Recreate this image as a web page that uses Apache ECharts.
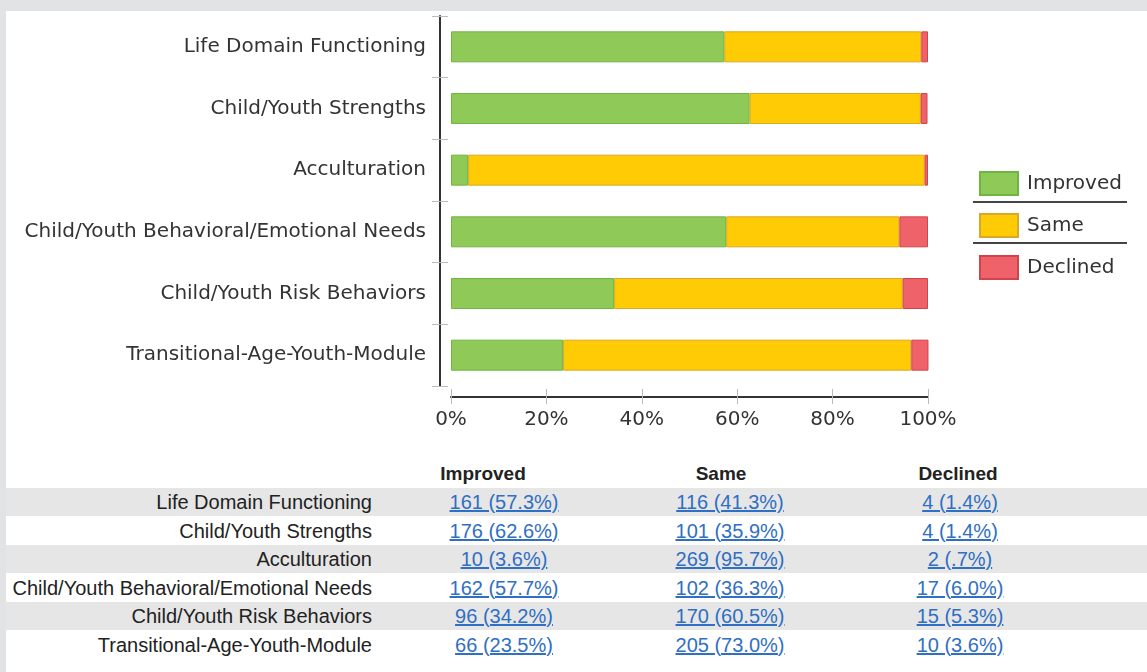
<!DOCTYPE html>
<html>
<head>
<meta charset="utf-8">
<script src="https://cdn.jsdelivr.net/npm/echarts@6/dist/echarts.min.js"></script>
<style>
	body { margin: 0; background: #e2e3e5; width: 1147px; height: 672px; overflow: hidden; position: relative; }
	#panel { position: absolute; left: 6px; top: 11px; right: 0; bottom: 0; background: #fff; }
	#chart { position: absolute; left: 0; top: 0; width: 1147px; height: 460px; }
	#table { position: absolute; left: 0; top: 0; width: 1147px; height: 672px; font-family: "Liberation Sans", Arial, sans-serif; font-size: 20px; color: #222; }
	.row { position: absolute; left: 6px; right: 0; height: 28px; }
	.row.odd { background: #e6e6e6; }
	.cell { position: absolute; height: 28px; line-height: 28px; white-space: nowrap; }
	.cell a { color: #2f6fc4; text-decoration: underline; }
	.head { font-weight: bold; font-size: 19px; }
</style>
</head>
<body>
<div id="panel"></div>
<div id="table"></div>
<div id="chart"></div>
<script>
var categories = ['Life Domain Functioning', 'Child/Youth Strengths', 'Acculturation',
	'Child/Youth Behavioral/Emotional Needs', 'Child/Youth Risk Behaviors', 'Transitional-Age-Youth-Module'];
var seriesNames = ['Improved', 'Same', 'Declined'];
var improvedCount = [161, 176, 10, 162, 96, 66];
var sameCount = [116, 101, 269, 102, 170, 205];
var declinedCount = [4, 4, 2, 17, 15, 10];
var improvedPct = [57.3, 62.6, 3.6, 57.7, 34.2, 23.5];
var samePct = [41.3, 35.9, 95.7, 36.3, 60.5, 73.0];
var declinedPct = [1.4, 1.4, 0.7, 6.0, 5.3, 3.6];
var xTicks = [0, 20, 40, 60, 80, 100];

var colors = ['#8fc957', '#fecb05', '#f0626a'];
var borders = ['#6fb544', '#d9a826', '#d2444c'];

// table under the chart
function fmtPct(v) {
	return v.toFixed(1).replace(/^0/, '');
}
var table = document.getElementById('table');
var rowTop = 488, rowH = 28.5;
var headCenters = [483, 721, 958];
var valCenters = [504, 730, 960];
var counts = [improvedCount, sameCount, declinedCount];
var pcts = [improvedPct, samePct, declinedPct];
var html = '';
for (var j = 0; j < seriesNames.length; j++) {
	html += '<div class="cell head" style="top:' + (rowTop - 28) + 'px;left:' + (headCenters[j] - 100) +
		'px;width:200px;text-align:center">' + seriesNames[j] + '</div>';
}
for (var i = 0; i < categories.length; i++) {
	var rowY = rowTop + i * rowH;
	html += '<div class="row' + (i % 2 == 0 ? ' odd' : '') + '" style="top:' + rowY + 'px"></div>';
	html += '<div class="cell" style="top:' + rowY + 'px;left:0;width:372px;text-align:right">' + categories[i] + '</div>';
	for (var j = 0; j < seriesNames.length; j++) {
		html += '<div class="cell" style="top:' + rowY + 'px;left:' + (valCenters[j] - 100) +
			'px;width:200px;text-align:center"><a>' + counts[j][i] + ' (' + fmtPct(pcts[j][i]) + '%)</a></div>';
	}
}
table.innerHTML = html;

var chart = echarts.init(document.getElementById('chart'));
var font = 'DejaVu Sans';
var tickStyle = { color: '#bbb', width: 1 };
var series = pcts.map(function(d, k) {
	return {
		name: seriesNames[k],
		type: 'bar',
		stack: 'total',
		barWidth: 31,
		xAxisIndex: 0,
		yAxisIndex: 0,
		itemStyle: { color: colors[k], borderColor: borders[k], borderWidth: 1 },
		data: d
	};
});
chart.setOption({
	animation: false,
	textStyle: { fontFamily: font },
	grid: { left: 451, top: 16, width: 477, height: 370 },
	legend: {
		orient: 'vertical',
		left: 979,
		top: 171,
		padding: 0,
		icon: 'rect',
		itemWidth: 38,
		itemHeight: 23,
		itemGap: 17,
		selectedMode: false,
		textStyle: { fontFamily: font, fontSize: 20, color: '#333', padding: [0, 0, 0, 4] },
		data: seriesNames
	},
	graphic: [
		{ type: 'line', shape: { x1: 973, y1: 202, x2: 1127, y2: 202 }, style: { stroke: '#444', lineWidth: 2 } },
		{ type: 'line', shape: { x1: 973, y1: 243, x2: 1127, y2: 243 }, style: { stroke: '#444', lineWidth: 2 } }
	],
	xAxis: [{
		type: 'value', min: xTicks[0], max: xTicks[xTicks.length - 1], interval: 20,
		position: 'bottom', offset: 11,
		axisLine: { show: true, onZero: false, lineStyle: { color: '#333', width: 2 } },
		axisTick: { show: true, length: 7, lineStyle: tickStyle },
		axisLabel: { fontFamily: font, fontSize: 20, color: '#333', margin: 13, formatter: '{value}%' },
		splitLine: { show: false }
	}, {
		type: 'value', min: xTicks[0], max: xTicks[xTicks.length - 1], interval: 20,
		position: 'bottom', offset: 11,
		axisLine: { show: false, onZero: false },
		axisTick: { show: true, inside: true, length: 8, lineStyle: tickStyle },
		axisLabel: { show: false },
		splitLine: { show: false }
	}],
	yAxis: [{
		type: 'category', inverse: true, data: categories,
		position: 'left', offset: 11,
		axisLine: { show: true, onZero: false, lineStyle: { color: '#333', width: 2 } },
		axisTick: { show: true, length: 8, lineStyle: tickStyle },
		axisLabel: { fontFamily: font, fontSize: 20, color: '#333', margin: 14 }
	}, {
		type: 'category', inverse: true, data: categories,
		position: 'left', offset: 11,
		axisLine: { show: false, onZero: false },
		axisTick: { show: true, inside: true, length: 8, lineStyle: tickStyle },
		axisLabel: { show: false }
	}],
	series: series
});
</script>
</body>
</html>
